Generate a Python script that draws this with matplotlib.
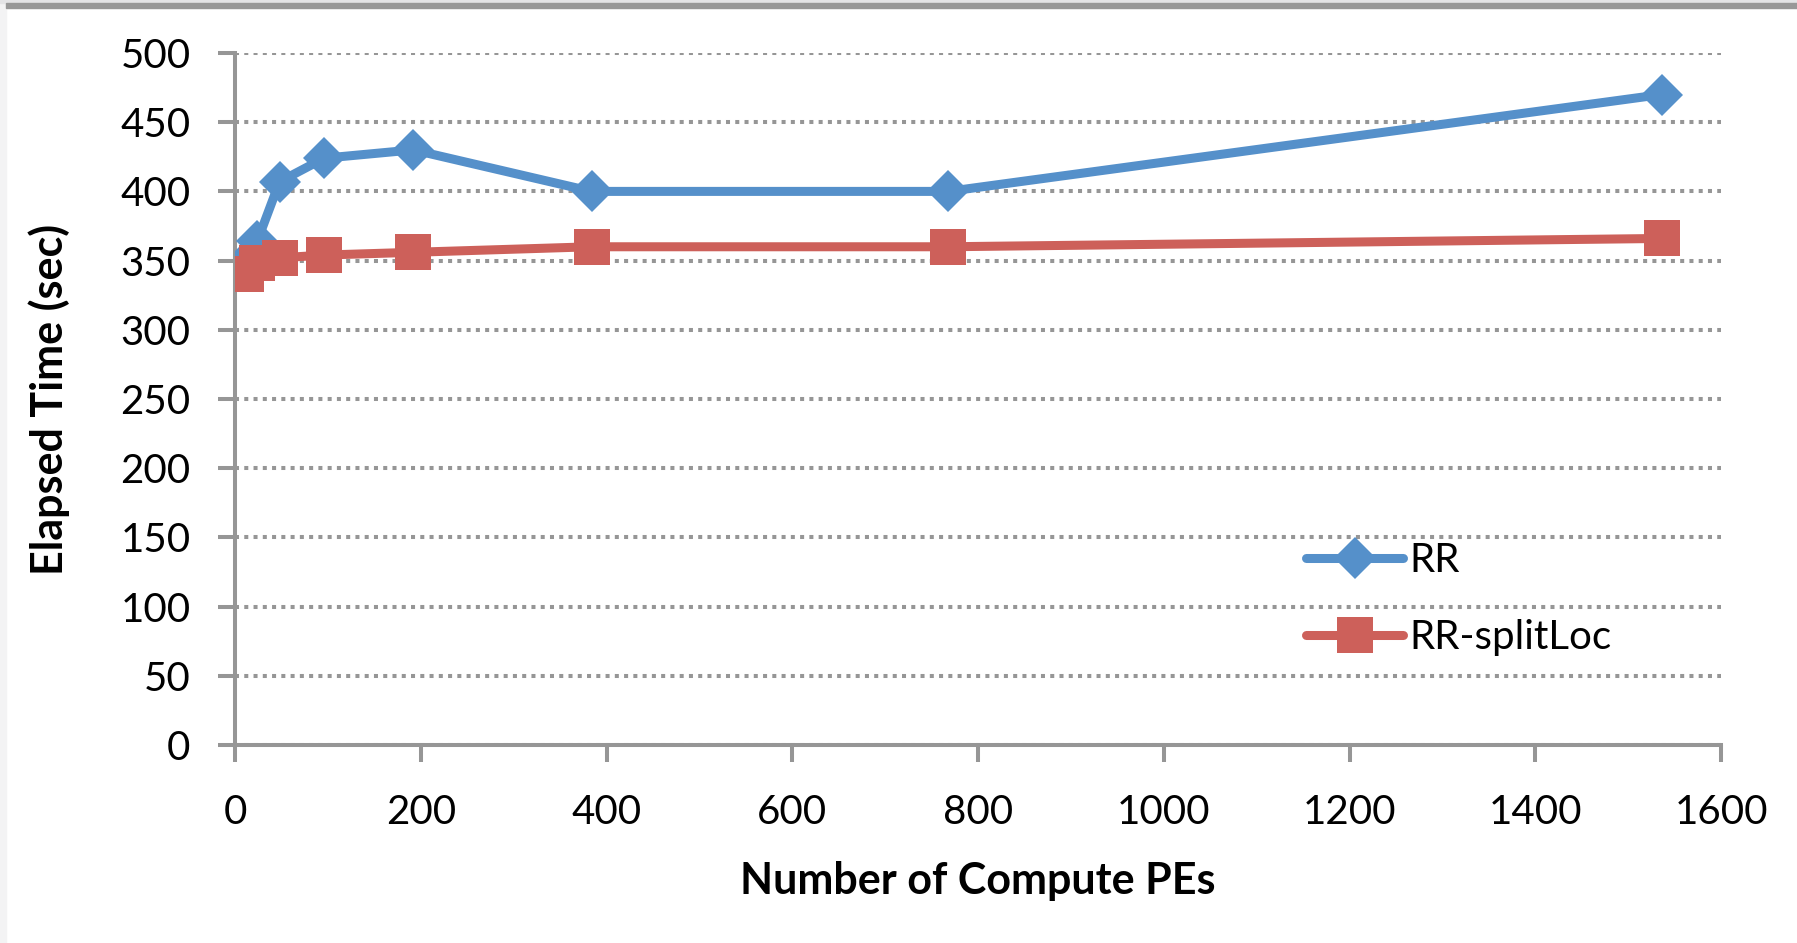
import matplotlib
matplotlib.use("Agg")
from matplotlib import pyplot as plt
import matplotlib.patches as patches

plt.rcParams['font.family'] = ['Lato', 'DejaVu Sans']

# number of compute PEs and elapsed times (sec)
pes = [12, 24, 48, 96, 192, 384, 768, 1536]
rr = [350, 364, 407, 424, 430, 400, 400, 470]
rr_split = [340, 348, 352, 354, 356, 360, 360, 366]

xticks = [0, 200, 400, 600, 800, 1000, 1200, 1400, 1600]
yticks = [0, 50, 100, 150, 200, 250, 300, 350, 400, 450, 500]

blue = '#5590ca'
red = '#cd605a'
grey = '#969696'

fig = plt.figure(figsize=(17.97, 9.43), dpi=100)

# window frame bits around the chart
fig.patches.append(patches.Rectangle((0, 0), 6 / 1797, 1, transform=fig.transFigure,
                                     color='#f3f3f4', zorder=0))
fig.patches.append(patches.Rectangle((0, 1 - 3 / 943), 1, 3 / 943, transform=fig.transFigure,
                                     color='#e4e4e6', zorder=0))
fig.patches.append(patches.Rectangle((6 / 1797, 1 - 8 / 943), 1, 5 / 943, transform=fig.transFigure,
                                     color='#989898', zorder=0))

ax = fig.add_axes([235 / 1797, 1 - 745 / 943, (1721 - 235) / 1797, (745 - 53) / 943])

ax.plot(pes, rr, color=blue, lw=6.5, marker='D', markersize=21,
        markeredgewidth=0, solid_capstyle='round', label='RR', zorder=3)
ax.plot(pes, rr_split, color=red, lw=6.5, marker='s', markersize=26,
        markeredgewidth=0, solid_capstyle='round', label='RR-splitLoc', zorder=4)

ax.set_xlim(0, 1600)
ax.set_ylim(0, 500)
ax.set_xticks(xticks)
ax.set_yticks(yticks)

ax.yaxis.grid(True, color=grey, lw=2.9, linestyle=(0, (1, 1.3)), dash_capstyle='butt')
ax.set_axisbelow(True)

for s in ['top', 'right']:
    ax.spines[s].set_visible(False)
for s in ['left', 'bottom']:
    ax.spines[s].set_color(grey)
    ax.spines[s].set_linewidth(2.9)

ax.tick_params(axis='both', direction='out', length=12, width=2.9, color=grey,
               labelsize=29)
ax.tick_params(axis='y', pad=20)
ax.tick_params(axis='x', pad=23)

ax.set_xlabel('Number of Compute PEs', fontsize=31, fontweight='bold', labelpad=22)
ax.set_ylabel('Elapsed Time (sec)', fontsize=31, fontweight='bold', labelpad=36)

leg = ax.legend(loc='center left', bbox_to_anchor=(0.721, 0.211), frameon=False,
                fontsize=29, handlelength=2.4, handletextpad=0.15, labelspacing=1.0,
                borderpad=0, borderaxespad=0)

fig.savefig('out.png', dpi=100)
